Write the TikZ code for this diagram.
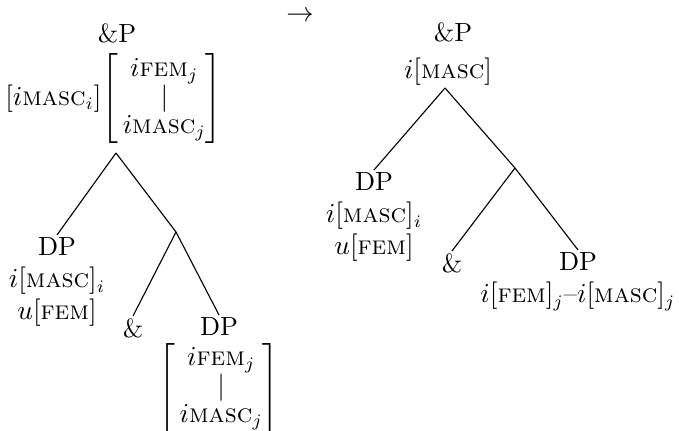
\documentclass[tikz,border=0pt]{standalone}
\usepackage{tikz}
\usetikzlibrary{positioning}

\tikzset{
	lbl/.style={align=center, inner sep=1pt},
	branch/.style={line width=0.45pt}
}
\newcommand{\fmasc}{\textsc{masc}}
\newcommand{\ffem}{\textsc{fem}}
\newcommand{\featstack}[2]{$\delimitershortfall=9pt\renewcommand{\arraystretch}{0.88}\left[\begin{array}{@{\,}c@{}}#1\\ |\\ #2\end{array}\right]$}

\begin{document}
\begin{tikzpicture}[x=0.4pt, y=-0.4pt, font=\fontsize{10.5}{12.8}\selectfont]
			%%%%% START %%%%%
			\useasboundingbox (0, 0) rectangle (679, 431);
			
			% left tree
			\node[lbl] (lroot) at (117, 33) {\&P};
			\node[lbl, inner sep=0pt] (lfeat) at (114, 99) {$[i\fmasc_i]$\featstack{i\ffem_j}{i\fmasc_j}};
			\coordinate (lapex) at (116, 153);
			\coordinate (lmid) at (176, 232);
			
			\node[lbl, anchor=north] (ldp) at (57, 235) {DP\\$i[\fmasc]_i$\\$u[\ffem]$};
			\node[lbl, anchor=north] (land) at (133, 316) {\&};
			\node[lbl, anchor=north] (ldpb) at (219, 315) {DP};
			\node[lbl, below=0.5pt of ldpb] (ldpbfeat) {\featstack{i\ffem_j}{i\fmasc_j}};
			
			\draw[branch] (lapex) -- (ldp.north);
			\draw[branch] (lapex) -- (lmid);
			\draw[branch] (lmid) -- (land.north);
			\draw[branch] (lmid) -- (ldpb.north);
			
			\node[inner sep=0pt, anchor=base] (arr) at (300, 22) {$\rightarrow$};
			
			% right tree
			\node[lbl] (rroot) at (453, 32) {\&P};
			\node[lbl] (rfeat) at (448, 72) {$i[\fmasc]$};
			\coordinate (rapex) at (445, 88);
			\coordinate (rmid) at (515, 168);
			
			\node[lbl, anchor=north] (rdp) at (374, 170) {DP\\$i[\fmasc]_i$\\$u[\ffem]$};
			\node[lbl, anchor=north] (rand) at (452, 251) {\&};
			\node[lbl, anchor=north] (rdpb) at (578, 250) {DP\\$i[\ffem]_j$--$i[\fmasc]_j$};
			
			\draw[branch] (rapex) -- (rdp.north);
			\draw[branch] (rapex) -- (rmid);
			\draw[branch] (rmid) -- (rand.north);
			\draw[branch] (rmid) -- (rdpb.north);
			%%%%% END %%%%%
\end{tikzpicture}
\end{document}
